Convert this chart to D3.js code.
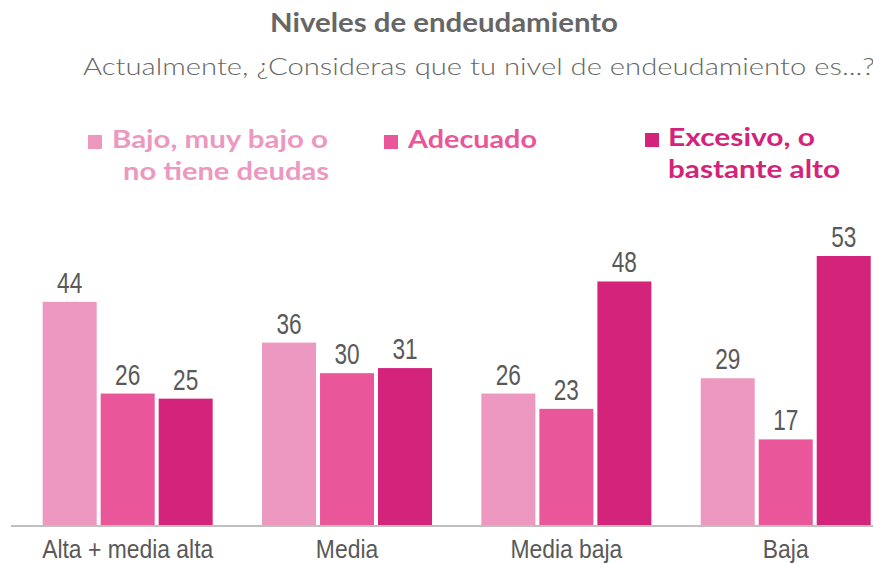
<!DOCTYPE html>
<html><head><meta charset="utf-8">
<script src="https://cdn.jsdelivr.net/npm/d3@7"></script>
<style>
html,body{margin:0;padding:0;background:#fff;}
svg{display:block;}
.narrow{font-family:"Liberation Sans Narrow","Arial Narrow","Liberation Sans",Arial,sans-serif;}
.av{font-family:Lato,"Noto Sans",sans-serif;}
</style></head>
<body><svg id="c" width="873" height="563"></svg>
<script>
const categories = ["Alta + media alta", "Media", "Media baja", "Baja"];
const seriesNames = [["Bajo, muy bajo o", "no tiene deudas"], ["Adecuado"], ["Excesivo, o", "bastante alto"]];
const bajo = [44, 36, 26, 29];
const adecuado = [26, 30, 23, 17];
const excesivo = [25, 31, 48, 53];
const colors = ["#EC98C0", "#E9579A", "#D4237A"];
const series = [bajo, adecuado, excesivo];

const svg = d3.select("#c");
const baseY = 526, topY = 256;

function squeeze(sel, factor) {
  sel.each(function() {
    const n = this.getComputedTextLength();
    d3.select(this).attr("textLength", n * factor).attr("lengthAdjust", "spacingAndGlyphs");
  });
}
function fitTo(sel, w) {
  sel.attr("textLength", w).attr("lengthAdjust", "spacingAndGlyphs");
}

const x = d3.scaleBand().domain(categories).range([18, 895.4]).padding(0);
const groupW = 170;
const xi = d3.scaleBand().domain(d3.range(3)).range([0, groupW]).paddingInner(4/58).paddingOuter(0);
const y = d3.scaleLinear().domain([0, 53]).range([baseY, topY]);

// title
fitTo(svg.append("text").attr("class","av").attr("x",270).attr("y",32)
  .attr("font-size",26).attr("font-weight",700).attr("fill","#666")
  .text("Niveles de endeudamiento"), 348);
fitTo(svg.append("text").attr("class","av").attr("x",83).attr("y",75)
  .attr("font-size",24).attr("font-weight",300).attr("fill","#666")
  .text("Actualmente, ¿Consideras que tu nivel de endeudamiento es...?"), 792);

// legend
const legendPos = [{x:88, y:148}, {x:384, y:148}, {x:645, y:146}];
const legendLines = [[{dx:24, w:216}, {dx:35, w:206}], [{dx:24, w:129}], [{dx:23, w:147}, {dx:23, w:172}]];
seriesNames.forEach((lines, i) => {
  const p = legendPos[i];
  svg.append("rect").attr("x", p.x).attr("y", p.y - 13).attr("width", 14).attr("height", 14).attr("fill", colors[i]);
  lines.forEach((l, j) => {
    const L = legendLines[i][j];
    fitTo(svg.append("text").attr("class","av").attr("font-size",24).attr("font-weight",700).attr("fill",colors[i])
      .attr("x", p.x + L.dx).attr("y", p.y + j*32).text(l), L.w);
  });
});

// bars
const g = svg.append("g");
categories.forEach((c, ci) => {
  const gx = x(c) + (x.bandwidth() - groupW)/2;
  series.forEach((s, si) => {
    const v = s[ci];
    g.append("rect").attr("x", gx + xi(si)).attr("y", y(v))
      .attr("width", xi.bandwidth()).attr("height", baseY - y(v)).attr("fill", colors[si]);
    const t = g.append("text").attr("class","narrow").attr("x", gx + xi(si) + xi.bandwidth()/2)
      .attr("y", y(v) - 9).attr("text-anchor","middle").attr("font-size",29).attr("fill","#595959")
      .text(v);
    squeeze(t, 0.78);
  });
});

// axis
const axis = svg.append("g").attr("transform", `translate(0,${baseY})`)
  .call(d3.axisBottom(x).tickSize(0).tickPadding(0));
axis.select(".domain").attr("stroke","#BFBFBF").attr("stroke-width",2).attr("d","M11,0H873");
const tt = axis.selectAll(".tick text").attr("class","narrow").attr("font-size",26).attr("fill","#595959")
  .attr("font-family",null).attr("dy",null).attr("y",32);
squeeze(tt, 0.88);
</script></body></html>
